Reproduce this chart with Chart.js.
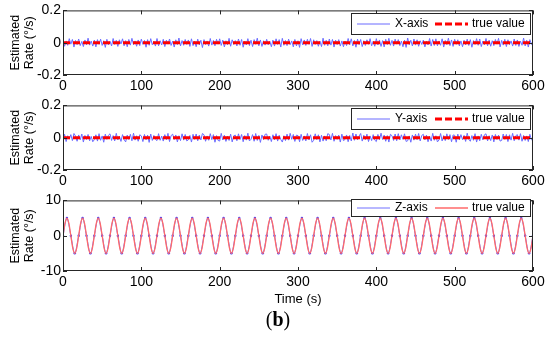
<!DOCTYPE html>
<html>
<head>
<meta charset="utf-8">
<script src="https://cdn.jsdelivr.net/npm/chart.js@4/dist/chart.umd.min.js"></script>
<style>
  body { margin: 0; background: #fff; width: 550px; height: 337px; overflow: hidden; position: relative; }
  canvas { position: absolute; left: 0; }
  #c1 { top: 0; }
  #c2 { top: 95px; }
  #c3 { top: 190px; }
  #cap { position: absolute; top: 307px; left: 0; width: 556px; text-align: center;
         font: 20px/24px "Liberation Serif", serif; color: #000; }
</style>
</head>
<body>
<canvas id="c1" width="550" height="96"></canvas>
<canvas id="c2" width="550" height="96"></canvas>
<canvas id="c3" width="550" height="120"></canvas>
<div id="cap">(<b>b</b>)</div>
<script>
// Sampling intervals (s)
const noiseStep = 2;
const zTrueStep = 2.5;
const zEstStep = 5;

// Tick labels
const timeTicks = [0, 100, 200, 300, 400, 500, 600];
const smallTicks = [-0.2, 0, 0.2];
const zTicks = [-10, -5, 0, 5, 10];

// Series names
const seriesX = ["X-axis", "true value"];
const seriesY = ["Y-axis", "true value"];
const seriesZ = ["Z-axis", "true value"];

// X-axis estimated rate (deg/s)
const xEst = [
  0.018,-0.022,0.011,-0.016,0.025,-0.009,0.020,-0.027,0.014,-0.012,
  0.023,-0.018,0.008,-0.024,0.017,-0.013,0.028,-0.015,0.010,-0.021,
  0.016,-0.026,0.019,-0.010,0.022,-0.017,0.012,-0.029,0.021,-0.014,
  0.009,-0.020,0.026,-0.011,0.015,-0.023,0.018,-0.008,0.024,-0.019,
  0.013,-0.025,0.020,-0.015,0.027,-0.012,0.011,-0.022,0.017,-0.018,
  0.022,-0.010,0.014,-0.028,0.019,-0.016,0.025,-0.013,0.008,-0.021,
  0.026,-0.019,0.012,-0.014,0.021,-0.024,0.016,-0.009,0.023,-0.017,
  0.010,-0.027,0.018,-0.012,0.029,-0.020,0.013,-0.016,0.020,-0.011,
  0.017,-0.023,0.024,-0.018,0.009,-0.025,0.022,-0.014,0.015,-0.030,
  0.019,-0.012,0.011,-0.021,0.026,-0.015,0.014,-0.019,0.021,-0.009,
  0.024,-0.017,0.016,-0.026,0.012,-0.013,0.027,-0.022,0.018,-0.011,
  0.013,-0.020,0.023,-0.016,0.020,-0.028,0.010,-0.014,0.025,-0.018,
  0.015,-0.024,0.019,-0.010,0.028,-0.019,0.017,-0.023,0.012,-0.015,
  0.021,-0.013,0.009,-0.025,0.016,-0.021,0.024,-0.011,0.019,-0.027,
  0.027,-0.016,0.014,-0.018,0.022,-0.012,0.011,-0.026,0.020,-0.020,
  0.012,-0.029,0.025,-0.014,0.017,-0.017,0.021,-0.010,0.026,-0.023,
  0.018,-0.011,0.013,-0.022,0.010,-0.024,0.028,-0.016,0.015,-0.019,
  0.023,-0.015,0.020,-0.027,0.016,-0.012,0.019,-0.021,0.011,-0.025,
  0.010,-0.018,0.026,-0.013,0.024,-0.020,0.014,-0.028,0.022,-0.012,
  0.020,-0.024,0.012,-0.017,0.018,-0.010,0.025,-0.019,0.009,-0.022,
  0.025,-0.014,0.017,-0.023,0.013,-0.026,0.021,-0.012,0.027,-0.016,
  0.014,-0.021,0.022,-0.009,0.019,-0.018,0.010,-0.025,0.016,-0.029,
  0.029,-0.013,0.015,-0.020,0.023,-0.015,0.018,-0.022,0.012,-0.011,
  0.016,-0.026,0.009,-0.014,0.026,-0.021,0.020,-0.017,0.024,-0.019,
  0.011,-0.016,0.024,-0.027,0.014,-0.012,0.028,-0.018,0.017,-0.023,
  0.021,-0.010,0.018,-0.020,0.011,-0.025,0.015,-0.014,0.022,-0.017,
  0.019,-0.028,0.013,-0.011,0.025,-0.016,0.023,-0.024,0.010,-0.013,
  0.026,-0.019,0.016,-0.022,0.012,-0.018,0.020,-0.009,0.027,-0.026,
  0.014,-0.015,0.021,-0.024,0.018,-0.012,0.011,-0.021,0.023,-0.017,
  0.017,-0.023,0.010,-0.016,0.029,-0.020,0.015,-0.027,0.019,-0.011,
  0.013
];

// Y-axis estimated rate (deg/s)
const yEst = [
  -0.015,0.021,-0.024,0.012,-0.009,0.019,-0.018,0.026,0.010,-0.022,
  0.017,-0.013,0.023,-0.027,0.014,-0.011,0.020,-0.019,0.008,-0.025,
  -0.012,0.018,-0.021,0.025,-0.016,0.011,-0.028,0.022,-0.010,0.015,
  0.024,-0.017,0.013,-0.020,0.027,-0.014,0.009,-0.023,0.019,-0.012,
  -0.026,0.016,-0.011,0.021,-0.019,0.028,-0.015,0.012,-0.022,0.018,
  0.011,-0.024,0.020,-0.013,0.016,-0.029,0.023,-0.017,0.014,-0.010,
  -0.018,0.025,-0.016,0.010,-0.021,0.019,-0.012,0.027,-0.024,0.013,
  0.022,-0.011,0.017,-0.026,0.012,-0.018,0.024,-0.015,0.020,-0.020,
  -0.013,0.014,-0.027,0.021,-0.010,0.023,-0.019,0.016,-0.014,0.026,
  0.018,-0.022,0.011,-0.016,0.025,-0.012,0.019,-0.028,0.013,-0.017,
  -0.021,0.027,-0.014,0.015,-0.023,0.010,-0.017,0.022,-0.026,0.012,
  0.016,-0.019,0.024,-0.011,0.020,-0.025,0.013,-0.015,0.028,-0.020,
  -0.010,0.019,-0.022,0.026,-0.017,0.014,-0.029,0.017,-0.012,0.021,
  0.023,-0.016,0.010,-0.024,0.018,-0.013,0.025,-0.021,0.015,-0.011,
  -0.027,0.012,-0.018,0.022,-0.015,0.027,-0.010,0.020,-0.023,0.016,
  0.013,-0.025,0.021,-0.017,0.011,-0.020,0.026,-0.014,0.018,-0.028,
  -0.016,0.024,-0.012,0.018,-0.026,0.015,-0.021,0.011,-0.019,0.025,
  0.020,-0.014,0.027,-0.022,0.013,-0.010,0.016,-0.027,0.022,-0.018,
  -0.011,0.017,-0.025,0.014,-0.020,0.029,-0.016,0.023,-0.013,0.010,
  0.026,-0.021,0.015,-0.012,0.022,-0.024,0.011,-0.018,0.019,-0.015,
  -0.024,0.020,-0.013,0.028,-0.011,0.016,-0.022,0.013,-0.027,0.021,
  0.012,-0.017,0.023,-0.019,0.025,-0.014,0.018,-0.010,0.024,-0.023,
  -0.019,0.011,-0.028,0.017,-0.015,0.022,-0.012,0.026,-0.020,0.014,
  0.021,-0.013,0.016,-0.025,0.010,-0.021,0.027,-0.016,0.012,-0.026,
  -0.014,0.026,-0.020,0.013,-0.018,0.024,-0.011,0.019,-0.025,0.017,
  0.015,-0.028,0.022,-0.014,0.019,-0.012,0.014,-0.023,0.028,-0.010,
  -0.022,0.013,-0.016,0.025,-0.027,0.011,-0.019,0.021,-0.013,0.018,
  0.024,-0.020,0.012,-0.018,0.017,-0.026,0.020,-0.011,0.016,-0.021,
  -0.017,0.023,-0.010,0.020,-0.024,0.018,-0.015,0.027,-0.019,0.012,
  0.019,-0.015,0.025,-0.022,0.014,-0.017,0.011,-0.024,0.021,-0.013,
  -0.012
];

// True value for X and Y (deg/s) at t = 0 and t = 600
const flatTime = [0, 600];
const xTrue = [0, 0];
const yTrue = [0, 0];

// Z-axis true value (deg/s), every 2.5 s
const zTrue = [
  0,3.5,5,3.5,0,-3.5,-5,-3.5, 0,3.5,5,3.5,0,-3.5,-5,-3.5, 0,3.5,5,3.5,0,-3.5,-5,-3.5, 0,3.5,5,3.5,0,-3.5,-5,-3.5, 0,3.5,5,3.5,0,-3.5,-5,-3.5,
  0,3.5,5,3.5,0,-3.5,-5,-3.5, 0,3.5,5,3.5,0,-3.5,-5,-3.5, 0,3.5,5,3.5,0,-3.5,-5,-3.5, 0,3.5,5,3.5,0,-3.5,-5,-3.5, 0,3.5,5,3.5,0,-3.5,-5,-3.5,
  0,3.5,5,3.5,0,-3.5,-5,-3.5, 0,3.5,5,3.5,0,-3.5,-5,-3.5, 0,3.5,5,3.5,0,-3.5,-5,-3.5, 0,3.5,5,3.5,0,-3.5,-5,-3.5, 0,3.5,5,3.5,0,-3.5,-5,-3.5,
  0,3.5,5,3.5,0,-3.5,-5,-3.5, 0,3.5,5,3.5,0,-3.5,-5,-3.5, 0,3.5,5,3.5,0,-3.5,-5,-3.5, 0,3.5,5,3.5,0,-3.5,-5,-3.5, 0,3.5,5,3.5,0,-3.5,-5,-3.5,
  0,3.5,5,3.5,0,-3.5,-5,-3.5, 0,3.5,5,3.5,0,-3.5,-5,-3.5, 0,3.5,5,3.5,0,-3.5,-5,-3.5, 0,3.5,5,3.5,0,-3.5,-5,-3.5, 0,3.5,5,3.5,0,-3.5,-5,-3.5,
  0,3.5,5,3.5,0,-3.5,-5,-3.5, 0,3.5,5,3.5,0,-3.5,-5,-3.5, 0,3.5,5,3.5,0,-3.5,-5,-3.5, 0,3.5,5,3.5,0,-3.5,-5,-3.5, 0,3.5,5,3.5,0,-3.5,-5,-3.5,
  0
];

// Z-axis estimated rate (deg/s), every 5 s
const zEst = [
  0,5,0,-5, 0,5,0,-5, 0,5,0,-5, 0,5,0,-5, 0,5,0,-5, 0,5,0,-5, 0,5,0,-5, 0,5,0,-5, 0,5,0,-5, 0,5,0,-5,
  0,5,0,-5, 0,5,0,-5, 0,5,0,-5, 0,5,0,-5, 0,5,0,-5, 0,5,0,-5, 0,5,0,-5, 0,5,0,-5, 0,5,0,-5, 0,5,0,-5,
  0,5,0,-5, 0,5,0,-5, 0,5,0,-5, 0,5,0,-5, 0,5,0,-5, 0,5,0,-5, 0,5,0,-5, 0,5,0,-5, 0,5,0,-5, 0,5,0,-5,
  0
];

const FONT = "'Liberation Sans', Arial, sans-serif";

// turn a value list into {x, y} points
function pts(vals, step) {
  return vals.map((v, i) => ({ x: i * step, y: v }));
}
function pairs(times, vals) {
  return times.map((t, i) => ({ x: t, y: vals[i] }));
}

// MATLAB-like box, inward ticks and boxed legend
const framePlugin = {
  id: "frame",
  afterDraw(chart, args, opts) {
    const ctx = chart.ctx;
    const a = chart.chartArea;
    const xs = chart.scales.x, ys = chart.scales.y;
    ctx.save();
    ctx.strokeStyle = "#262626";
    ctx.lineWidth = 1;
    ctx.strokeRect(a.left + 0.5, a.top + 0.5, a.right - a.left - 1, a.bottom - a.top - 1);
    ctx.beginPath();
    xs.ticks.forEach(t => {
      const px = Math.round(xs.getPixelForValue(t.value)) + 0.5;
      ctx.moveTo(px, a.bottom); ctx.lineTo(px, a.bottom - 4);
      ctx.moveTo(px, a.top); ctx.lineTo(px, a.top + 4);
    });
    ys.ticks.forEach(t => {
      const py = Math.round(ys.getPixelForValue(t.value)) + 0.5;
      ctx.moveTo(a.left, py); ctx.lineTo(a.left + 4, py);
      ctx.moveTo(a.right, py); ctx.lineTo(a.right - 4, py);
    });
    ctx.stroke();

    // legend
    const w = 179, h = opts.boxH;
    const bx = Math.round(a.right - 3 - w), by = Math.round(a.top + opts.boxTop);
    ctx.fillStyle = "#fff";
    ctx.fillRect(bx, by, w, h);
    ctx.strokeStyle = "#262626";
    ctx.strokeRect(bx + 0.5, by + 0.5, w, h);
    const cy = by + h / 2 + 0.5;
    const slots = [[6, 44], [84, 121]];
    ctx.font = "12px " + FONT;
    ctx.textBaseline = "middle";
    chart.data.datasets.forEach((ds, i) => {
      const [s, tx] = slots[i];
      ctx.beginPath();
      ctx.strokeStyle = ds.borderColor;
      ctx.lineWidth = ds.borderWidth;
      ctx.setLineDash(ds.borderDash || []);
      ctx.moveTo(bx + s, cy);
      ctx.lineTo(bx + s + 33, cy);
      ctx.stroke();
      ctx.setLineDash([]);
      ctx.fillStyle = "#000";
      ctx.fillText(ds.label, bx + tx, cy);
    });
    ctx.restore();
  }
};

function makeChart(id, datasets, yMin, yMax, yTickVals, legend, xHeight, topPad, xTitle) {
  const ctx = document.getElementById(id).getContext("2d");
  return new Chart(ctx, {
    type: "line",
    data: { datasets: datasets },
    options: {
      responsive: false,
      animation: false,
      devicePixelRatio: 1,
      layout: { padding: { top: topPad, right: 17, left: 0, bottom: 0 } },
      elements: { point: { radius: 0 } },
      plugins: {
        legend: { display: false },
        tooltip: { enabled: false },
        frame: legend
      },
      scales: {
        x: {
          type: "linear",
          min: timeTicks[0],
          max: timeTicks[timeTicks.length - 1],
          afterBuildTicks: s => { s.ticks = timeTicks.map(v => ({ value: v })); },
          afterFit: s => { s.height = xHeight; },
          grid: { display: false, drawTicks: false },
          border: { display: false },
          ticks: { color: "#000", font: { size: 14, family: FONT }, padding: 3, maxRotation: 0, autoSkip: false },
          title: {
            display: !!xTitle,
            text: xTitle || "",
            color: "#000",
            font: { size: 13, family: FONT },
            padding: { top: 0, bottom: 3 }
          }
        },
        y: {
          min: yMin,
          max: yMax,
          afterBuildTicks: s => { s.ticks = yTickVals.map(v => ({ value: v })); },
          afterFit: s => { s.width = 63; },
          grid: { display: false, drawTicks: false },
          border: { display: false },
          ticks: { color: "#000", font: { size: 14, family: FONT }, padding: 2 },
          title: {
            display: true,
            text: ["Estimated", "Rate (°/s)"],
            color: "#000",
            font: { size: 12.5, family: FONT, lineHeight: 1.08 },
            padding: { top: 9, bottom: 0 }
          }
        }
      }
    },
    plugins: [framePlugin]
  });
}

window.addEventListener("DOMContentLoaded", () => {
  makeChart("c1", [
    { label: seriesX[0], data: pts(xEst, noiseStep), borderColor: "#6b6bff", borderWidth: 1, order: 1 },
    { label: seriesX[1], data: pairs(flatTime, xTrue), borderColor: "#ff0000", borderWidth: 3, borderDash: [7, 3], order: 0 }
  ], -0.2, 0.2, smallTicks, { boxTop: 3, boxH: 21 }, 21, 10, null);

  makeChart("c2", [
    { label: seriesY[0], data: pts(yEst, noiseStep), borderColor: "#6b6bff", borderWidth: 1, order: 1 },
    { label: seriesY[1], data: pairs(flatTime, yTrue), borderColor: "#ff0000", borderWidth: 3, borderDash: [7, 3], order: 0 }
  ], -0.2, 0.2, smallTicks, { boxTop: 3, boxH: 21 }, 21, 10, null);

  makeChart("c3", [
    { label: seriesZ[0], data: pts(zEst, zEstStep), borderColor: "#7070ff", borderWidth: 1,
      pointRadius: 1.2, pointBackgroundColor: "#3a3aff", pointBorderWidth: 0,
      cubicInterpolationMode: "monotone", order: 1 },
    { label: seriesZ[1], data: pts(zTrue, zTrueStep), borderColor: "#ff6a6a", borderWidth: 1.3,
      cubicInterpolationMode: "monotone", order: 0 }
  ], -10, 10, zTicks, { boxTop: -1, boxH: 17 }, 39, 9, "Time (s)");
});
</script>
</body>
</html>
